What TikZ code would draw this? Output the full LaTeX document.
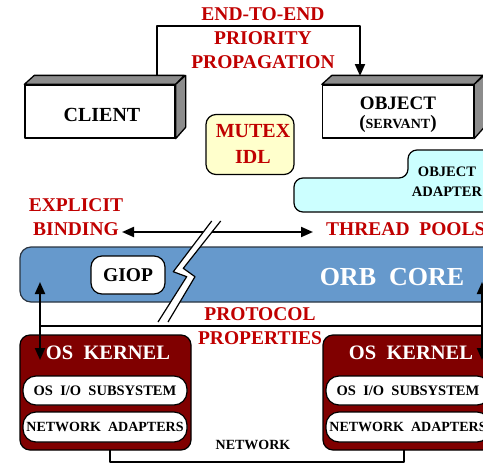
\documentclass[tikz,border=0pt]{standalone}
\usepackage{fontspec}
\setmainfont{Liberation Serif}
\usetikzlibrary{arrows.meta,calc}

\definecolor{labelred}{HTML}{C00000}
\definecolor{orbblue}{HTML}{6699CC}
\definecolor{orbedge}{HTML}{2A3440}
\definecolor{kernelred}{HTML}{800000}
\definecolor{idlyellow}{HTML}{FFFFCC}
\definecolor{oacyan}{HTML}{CCFFFF}
\definecolor{faceshade}{gray}{0.55}

\newcommand{\txtsize}[2]{\fontsize{#1}{#2}\selectfont}

\tikzset{
  redlbl/.style={text=labelred, font=\bfseries\txtsize{19.5}{24}, align=center, inner sep=0pt},
  boxfront/.style={draw, line width=1.3pt, fill=white, minimum width=150pt,
                   minimum height=53pt, inner sep=0pt},
  face/.style={draw, line width=1.3pt, fill=faceshade},
  link/.style={line width=2pt},
  tip/.style={-{Triangle[length=12pt,width=10pt]}},
  twotip/.style={{Triangle[length=12pt,width=10pt]}-{Triangle[length=12pt,width=10pt]}},
  roundbox/.style={draw, line width=1.2pt, rounded corners=10pt, inner sep=0pt},
  kernelbox/.style={roundbox, fill=kernelred, minimum width=171pt, minimum height=115pt},
  pill/.style={draw, line width=1.2pt, fill=white, rounded corners=13pt,
               minimum width=164pt, inner sep=0pt, font=\bfseries\txtsize{14.5}{14}},
  whitelbl/.style={text=white, font=\bfseries\txtsize{20.5}{20}, inner sep=0pt},
  boltedge/.style={line width=1.2pt}
}

\begin{document}
\begin{tikzpicture}[x=1pt, y=-1pt, line join=round]
\useasboundingbox (0,0) rectangle (483,467);
\clip (0,0) rectangle (483,467);

% ---- client and servant blocks (3-D boxes) ----
\node[boxfront] (client) at (100,111.5) {};
\node[font=\bfseries\txtsize{20}{20}, inner sep=0pt] (clienttext) at (102,115) {CLIENT};
\draw[face] (client.north west) -- ++(10,-9) -- ++(150,0) -- (client.north east) -- cycle;
\draw[face] (client.north east) -- ++(10,-9) -- ++(0,52) -- (client.south east) -- cycle;

\node[boxfront, minimum width=151pt] (object) at (398,111.5) {};
\node[font=\bfseries\txtsize{19}{19}, inner sep=0pt] (objecttext) at (398,103) {OBJECT};
\node[font=\bfseries\txtsize{19}{19}, inner sep=0pt] (servanttext) at (398,124)
  {(\txtsize{14}{14}SERVANT\txtsize{19}{19})};
\draw[face] (object.north west) -- ++(10,-9) -- ++(151,0) -- (object.north east) -- cycle;
\draw[face] (object.north east) -- ++(10,-9) -- ++(0,52) -- (object.south east) -- cycle;

% ---- end-to-end priority propagation ----
\coordinate (pTop) at (156.7,76);
\coordinate (pLevel) at (260,26);
\coordinate (pHead) at (360,76);
\draw[link,tip] (pTop) |- (pLevel) -| (pHead);
\node[redlbl] (prio) at (263,38) {END-TO-END\\PRIORITY\\PROPAGATION};

% ---- mutex IDL ----
\node[roundbox, fill=idlyellow, minimum width=88pt, minimum height=60pt] (mutex) at (250,144.5) {};
\node[text=labelred, font=\bfseries\txtsize{20}{26}, align=center, inner sep=0pt] (mutextext)
  at (253,144) {MUTEX\\IDL};

% ---- object adapter ----
\draw[line width=1.2pt, fill=oacyan, rounded corners=9pt]
  (510,212) -- (294,212) -- (294,178) -- (408,178) -- (408,150) -- (510,150) -- cycle;
\node[font=\bfseries\txtsize{14.5}{20}, align=center, inner sep=0pt] (adapter) at (447,182)
  {OBJECT\\ADAPTER};

% ---- ORB core ----
\node[draw=orbedge, line width=1.2pt, fill=orbblue, rounded corners=11pt,
      minimum width=490pt, minimum height=55pt, inner sep=0pt] (orb) at (265,274.5) {};
\node[whitelbl, font=\bfseries\txtsize{26}{26}] (orbtext) at (392,277) {ORB\ \ CORE};
\node[roundbox, fill=white, rounded corners=11pt, minimum width=74pt, minimum height=38pt,
      font=\bfseries\txtsize{19.5}{19}] (giop) at (128,275) {GIOP};

% ---- explicit binding / thread pools ----
\node[redlbl] (binding) at (76,217) {EXPLICIT\\BINDING};
\node[redlbl, anchor=west] (pools) at (326,229) {THREAD\ \ POOLS};
\coordinate (bindEnd) at (122,232);
\coordinate (poolEnd) at (313,232);
\draw[link,twotip] (bindEnd) -- (poolEnd);

% ---- protocol properties ----
\coordinate (protoL) at (40,326);
\coordinate (protoR) at (495,326);
\draw[link] (protoL) -- (protoR);
\node[redlbl] (proto) at (260,326) {PROTOCOL\\PROPERTIES};

% ---- lightning break ----
\fill[white] (211.7,221) -- (173.3,271.7) -- (186.7,276.7) -- (158,322)
  -- (168,322) -- (195,276.7) -- (183.3,268.3) -- (220.7,221) -- cycle;
\draw[boltedge] (211.7,221) -- (173.3,271.7) -- (186.7,276.7) -- (158,322);
\draw[boltedge] (220.7,221) -- (183.3,268.3) -- (195,276.7) -- (168,322);

% ---- OS kernels ----
\node[kernelbox] (kernL) at (105.5,392.5) {};
\node[whitelbl] (kernLtext) at (108,353) {OS\ \ KERNEL};
\node[pill, minimum height=29pt] (ioL) at (105,390.5) {OS\ \ I/O\ \ SUBSYSTEM};
\node[pill, minimum height=30pt, font=\bfseries\txtsize{14}{14}] (naL) at (105,427) {NETWORK\ \ ADAPTERS};

\node[kernelbox] (kernR) at (408.5,392.5) {};
\node[whitelbl] (kernRtext) at (411,353) {OS\ \ KERNEL};
\node[pill, minimum height=29pt] (ioR) at (408,390.5) {OS\ \ I/O\ \ SUBSYSTEM};
\node[pill, minimum height=30pt, font=\bfseries\txtsize{14}{14}] (naR) at (408,427) {NETWORK\ \ ADAPTERS};

% ---- ORB core <-> kernel arrows ----
\coordinate (orbL) at (40,282);
\coordinate (kerL) at (40,360);
\draw[link,twotip] (orbL) -- (kerL);
\coordinate (orbR) at (482,282);
\coordinate (kerR) at (482,360);
\draw[link,twotip] (orbR) -- (kerR);

% ---- network ----
\coordinate (netL) at (110,450);
\coordinate (netBottom) at (257,462);
\coordinate (netR) at (404,450);
\draw[line width=2.2pt] (netL) |- (netBottom) -| (netR);
\node[font=\bfseries\txtsize{14}{14}, inner sep=0pt] (network) at (253,445) {NETWORK};

\end{tikzpicture}
\end{document}
